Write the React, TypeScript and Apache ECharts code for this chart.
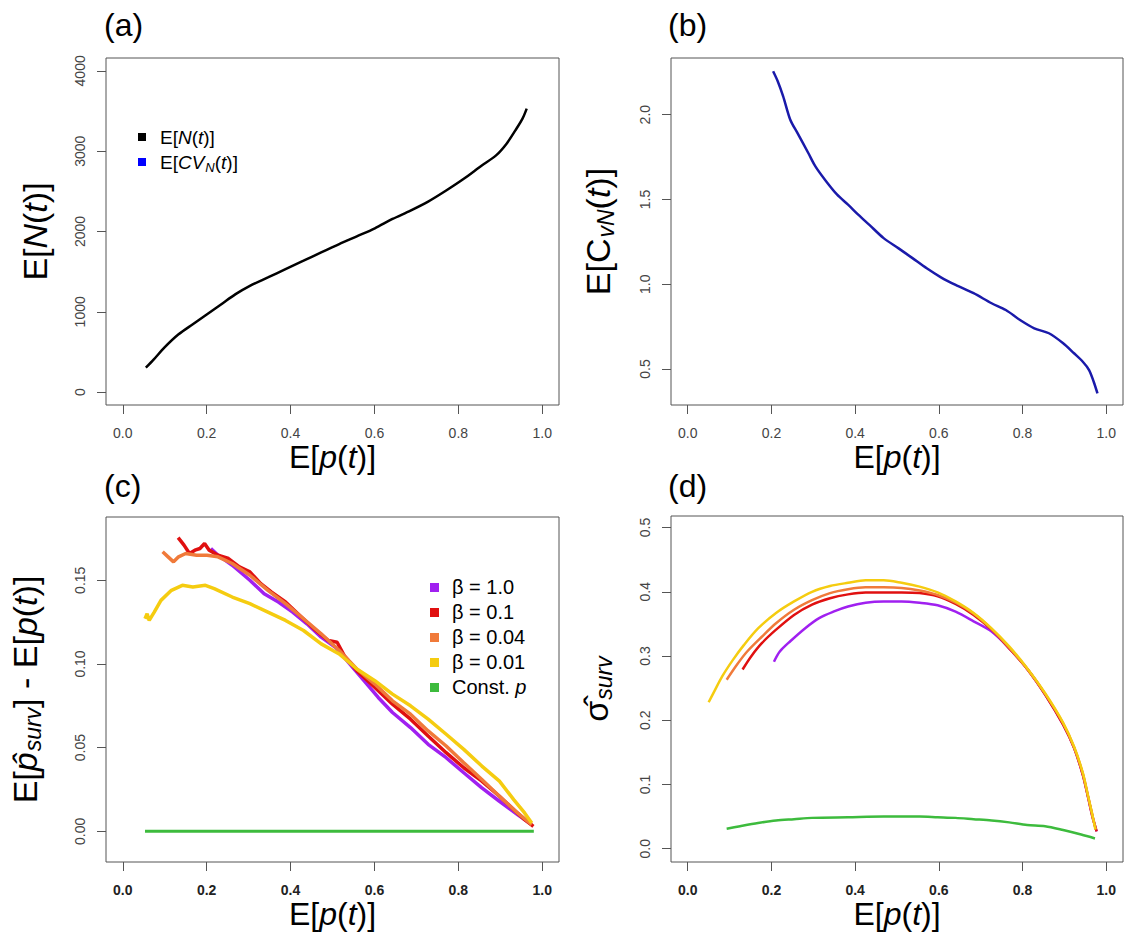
import React, { useEffect, useRef } from "react";
import * as echarts from "echarts";

const FONT = '"Liberation Sans", Arial, Helvetica, sans-serif';

// ---- tick values ----
const xTicks = [0, 0.2, 0.4, 0.6, 0.8, 1.0];
const aTicks = [0, 1000, 2000, 3000, 4000];
const bTicks = [0.5, 1.0, 1.5, 2.0];
const cTicks = [0, 0.05, 0.1, 0.15];
const dTicks = [0, 0.1, 0.2, 0.3, 0.4, 0.5];

// ---- panel (a): E[N(t)] vs E[p(t)] ----
const nX = [0.055, 0.074, 0.099, 0.133, 0.167, 0.201, 0.235, 0.269, 0.303, 0.346, 0.388, 0.431, 0.473, 0.516, 0.558, 0.601, 0.643, 0.686, 0.728, 0.771, 0.813, 0.856, 0.890, 0.915, 0.936, 0.953, 0.963];
const nY = [304, 408, 554, 720, 845, 970, 1095, 1220, 1324, 1428, 1532, 1636, 1740, 1844, 1940, 2040, 2156, 2260, 2372, 2510, 2656, 2822, 2947, 3093, 3259, 3405, 3530];

// ---- panel (b): E[CvN(t)] vs E[p(t)] ----
const cvX = [0.204, 0.215, 0.228, 0.245, 0.262, 0.288, 0.305, 0.331, 0.357, 0.383, 0.408, 0.434, 0.468, 0.503, 0.537, 0.571, 0.605, 0.640, 0.683, 0.726, 0.760, 0.794, 0.828, 0.863, 0.897, 0.923, 0.944, 0.959, 0.970, 0.979];
const cvY = [2.256, 2.197, 2.108, 1.970, 1.892, 1.774, 1.695, 1.606, 1.528, 1.469, 1.409, 1.350, 1.272, 1.213, 1.154, 1.094, 1.041, 0.996, 0.947, 0.888, 0.848, 0.789, 0.740, 0.711, 0.652, 0.593, 0.543, 0.494, 0.425, 0.356];

// ---- panel (c): bias ----
const c1X = [0.210, 0.227, 0.261, 0.303, 0.337, 0.371, 0.405, 0.439, 0.473, 0.507, 0.541, 0.575, 0.609, 0.643, 0.686, 0.728, 0.771, 0.813, 0.856, 0.898, 0.941, 0.975];
const c1Y = [0.169, 0.165, 0.159, 0.150, 0.142, 0.137, 0.131, 0.124, 0.116, 0.110, 0.100, 0.090, 0.080, 0.071, 0.062, 0.052, 0.044, 0.035, 0.026, 0.018, 0.010, 0.004];
const c2X = [0.132, 0.146, 0.159, 0.172, 0.184, 0.195, 0.206, 0.227, 0.252, 0.278, 0.303, 0.329, 0.354, 0.388, 0.422, 0.456, 0.490, 0.511, 0.528, 0.558, 0.601, 0.643, 0.686, 0.728, 0.771, 0.813, 0.856, 0.898, 0.932, 0.958, 0.979];
const c2Y = [0.1755, 0.171, 0.166, 0.168, 0.169, 0.172, 0.168, 0.165, 0.163, 0.158, 0.155, 0.148, 0.143, 0.137, 0.129, 0.121, 0.114, 0.113, 0.105, 0.096, 0.086, 0.076, 0.067, 0.057, 0.047, 0.038, 0.030, 0.021, 0.013, 0.007, 0.003];
const c3X = [0.095, 0.108, 0.121, 0.133, 0.150, 0.176, 0.201, 0.227, 0.261, 0.303, 0.346, 0.388, 0.431, 0.473, 0.516, 0.558, 0.601, 0.643, 0.686, 0.728, 0.771, 0.813, 0.856, 0.898, 0.941, 0.975];
const c3Y = [0.167, 0.164, 0.161, 0.164, 0.166, 0.165, 0.165, 0.164, 0.160, 0.153, 0.144, 0.136, 0.127, 0.118, 0.108, 0.097, 0.088, 0.078, 0.070, 0.060, 0.051, 0.041, 0.031, 0.021, 0.011, 0.004];
const c4X = [0.053, 0.058, 0.063, 0.075, 0.091, 0.116, 0.142, 0.167, 0.197, 0.218, 0.261, 0.303, 0.346, 0.388, 0.431, 0.473, 0.516, 0.558, 0.601, 0.643, 0.686, 0.728, 0.771, 0.813, 0.856, 0.898, 0.932, 0.958, 0.975];
const c4Y = [0.127, 0.130, 0.126, 0.131, 0.138, 0.144, 0.147, 0.146, 0.147, 0.145, 0.140, 0.136, 0.131, 0.126, 0.120, 0.112, 0.106, 0.097, 0.090, 0.082, 0.075, 0.067, 0.058, 0.049, 0.039, 0.030, 0.019, 0.011, 0.005];
const c5X = [0.053, 0.98];
const c5Y = [0, 0];

// ---- panel (d): sigma ----
const d1X = [0.206, 0.220, 0.245, 0.280, 0.314, 0.348, 0.383, 0.425, 0.468, 0.511, 0.554, 0.597, 0.640, 0.683, 0.726, 0.768, 0.811, 0.854, 0.897, 0.923, 0.944, 0.957, 0.967, 0.977];
const d1Y = [0.291, 0.307, 0.323, 0.343, 0.359, 0.369, 0.377, 0.383, 0.385, 0.385, 0.383, 0.379, 0.369, 0.354, 0.338, 0.312, 0.280, 0.240, 0.193, 0.157, 0.115, 0.079, 0.050, 0.027];
const d2X = [0.131, 0.151, 0.177, 0.211, 0.254, 0.297, 0.340, 0.383, 0.425, 0.468, 0.511, 0.554, 0.597, 0.640, 0.683, 0.726, 0.768, 0.811, 0.854, 0.897, 0.923, 0.944, 0.957, 0.967, 0.977];
const d2Y = [0.279, 0.299, 0.320, 0.341, 0.364, 0.380, 0.390, 0.396, 0.399, 0.399, 0.399, 0.398, 0.393, 0.381, 0.364, 0.341, 0.312, 0.280, 0.240, 0.193, 0.157, 0.115, 0.079, 0.050, 0.027];
const d3X = [0.093, 0.117, 0.142, 0.177, 0.211, 0.254, 0.297, 0.340, 0.383, 0.425, 0.468, 0.511, 0.554, 0.597, 0.640, 0.683, 0.726, 0.768, 0.811, 0.854, 0.897, 0.923, 0.944, 0.957, 0.967, 0.975];
const d3Y = [0.263, 0.286, 0.307, 0.330, 0.351, 0.372, 0.387, 0.398, 0.404, 0.407, 0.407, 0.406, 0.402, 0.395, 0.383, 0.366, 0.342, 0.313, 0.280, 0.241, 0.195, 0.158, 0.117, 0.080, 0.052, 0.030];
const d4X = [0.050, 0.065, 0.082, 0.108, 0.134, 0.168, 0.211, 0.254, 0.297, 0.340, 0.383, 0.425, 0.468, 0.511, 0.554, 0.597, 0.640, 0.683, 0.726, 0.768, 0.811, 0.854, 0.897, 0.923, 0.944, 0.957, 0.966, 0.974];
const d4Y = [0.228, 0.247, 0.268, 0.294, 0.317, 0.343, 0.367, 0.385, 0.400, 0.409, 0.414, 0.418, 0.418, 0.414, 0.408, 0.399, 0.385, 0.367, 0.343, 0.315, 0.281, 0.242, 0.196, 0.159, 0.118, 0.081, 0.055, 0.030];
const d5X = [0.093, 0.125, 0.168, 0.211, 0.254, 0.297, 0.383, 0.468, 0.554, 0.597, 0.640, 0.683, 0.726, 0.768, 0.811, 0.854, 0.897, 0.940, 0.973];
const d5Y = [0.031, 0.035, 0.040, 0.044, 0.046, 0.048, 0.049, 0.050, 0.050, 0.049, 0.048, 0.046, 0.044, 0.041, 0.037, 0.035, 0.029, 0.022, 0.016];

const betaNames = ["β = 1.0", "β = 0.1", "β = 0.04", "β = 0.01", "Const. p"];
const betaColors = ["#A020F0", "#E01010", "#F07A3A", "#F5CC10", "#3DBB3D"];
const nColor = "#000000";
const cvColor = "#1A1AAA";
const cvLegendColor = "#0000FF";

const zip = (xs: number[], ys: number[]) => xs.map((x, i) => [x, ys[i]]);

const T = 32; // title font
const richBase = (size: number) => ({
  n: { fontSize: size, fontFamily: FONT, color: "#000" },
  i: { fontSize: size, fontFamily: FONT, color: "#000", fontStyle: "italic" },
  s: { fontSize: Math.round(size * 0.68), fontFamily: FONT, color: "#000", fontStyle: "italic", padding: [Math.round(size * 0.45), 0, 0, 1] },
});

function xAxis(gridIndex: number, bold: boolean) {
  return {
    type: "value",
    gridIndex,
    min: -0.04,
    max: 1.04,
    axisLine: { show: false, onZero: false },
    splitLine: { show: false },
    axisTick: { show: true, length: 9, customValues: xTicks, lineStyle: { color: "#555", width: 1 } },
    axisLabel: {
      customValues: xTicks,
      formatter: (v: number) => v.toFixed(1),
      margin: 21,
      fontSize: 14,
      fontFamily: FONT,
      color: bold ? "#222" : "#444",
      fontWeight: bold ? "bold" : "normal",
    },
    name: "{n|E[}{i|p}{n|(}{i|t}{n|)]}",
    nameLocation: "middle",
    nameGap: 33,
    nameTextStyle: { fontSize: T, fontFamily: FONT, color: "#000", rich: richBase(T) },
  };
}

function yAxis(gridIndex: number, min: number, max: number, ticks: number[], dec: number, name: string, gap: number) {
  return {
    type: "value",
    gridIndex,
    min,
    max,
    axisLine: { show: false, onZero: false },
    splitLine: { show: false },
    axisTick: { show: true, length: 9, customValues: ticks, lineStyle: { color: "#555", width: 1 } },
    axisLabel: {
      customValues: ticks,
      formatter: (v: number) => v.toFixed(dec),
      rotate: 90,
      margin: 19,
      fontSize: 14,
      fontFamily: FONT,
      color: "#444",
    },
    name,
    nameLocation: "middle",
    nameRotate: 90,
    nameGap: gap,
    nameTextStyle: { fontSize: 34, fontFamily: FONT, color: "#000", rich: richBase(34) },
  };
}

function line(name: string, xi: number, xs: number[], ys: number[], color: string, width: number, smooth: number) {
  return {
    type: "line",
    name,
    xAxisIndex: xi,
    yAxisIndex: xi,
    data: zip(xs, ys),
    showSymbol: false,
    symbol: "none",
    smooth,
    lineStyle: { color, width },
    itemStyle: { color },
    emphasis: { disabled: true },
  };
}

function App() {
  const ref = useRef<HTMLDivElement>(null);
  useEffect(() => {
    if (!ref.current) return;
    const chart = echarts.init(ref.current, null, { renderer: "svg" });

    const gridStyle = { show: true, borderColor: "#555", borderWidth: 1, backgroundColor: "transparent" };
    const cSeries = [
      line(betaNames[0], 2, c1X, c1Y, betaColors[0], 3.5, 0),
      line(betaNames[1], 2, c2X, c2Y, betaColors[1], 3.5, 0),
      line(betaNames[2], 2, c3X, c3Y, betaColors[2], 3.5, 0),
      line(betaNames[3], 2, c4X, c4Y, betaColors[3], 3.5, 0),
      line(betaNames[4], 2, c5X, c5Y, betaColors[4], 3, 0),
    ];
    const dSeries = [
      line(betaNames[0], 3, d1X, d1Y, betaColors[0], 2.5, 0.3),
      line(betaNames[1], 3, d2X, d2Y, betaColors[1], 2.5, 0.3),
      line(betaNames[2], 3, d3X, d3Y, betaColors[2], 2.5, 0.3),
      line(betaNames[3], 3, d4X, d4Y, betaColors[3], 2.5, 0.3),
      line(betaNames[4], 3, d5X, d5Y, betaColors[4], 2.5, 0.3),
    ];

    const legendRich = {
      n: { fontSize: 19, fontFamily: FONT, color: "#000" },
      i: { fontSize: 19, fontFamily: FONT, color: "#000", fontStyle: "italic" },
      s: { fontSize: 13, fontFamily: FONT, color: "#000", fontStyle: "italic", padding: [10, 0, 0, 1] },
    };
    const legendA = [
      { label: "{n|E[}{i|N}{n|(}{i|t}{n|)]}", color: nColor, y: 137 },
      { label: "{n|E[}{i|CV}{s|N}{n|(}{i|t}{n|)]}", color: cvLegendColor, y: 162 },
    ];
    const legendCLabels = ["{n|β = 1.0}", "{n|β = 0.1}", "{n|β = 0.04}", "{n|β = 0.01}", "{n|Const. }{i|p}"];
    const legendCY = [587, 612, 637, 662, 687];

    const graphics: any[] = [];
    const panelLabels = [
      { t: "(a)", x: 104, y: 25 },
      { t: "(b)", x: 668, y: 25 },
      { t: "(c)", x: 104, y: 486 },
      { t: "(d)", x: 668, y: 486 },
    ];
    panelLabels.forEach((p) =>
      graphics.push({
        type: "text",
        x: p.x,
        y: p.y,
        style: { text: p.t, fontSize: 32, fontFamily: FONT, fill: "#000", verticalAlign: "middle", align: "left" },
      })
    );
    legendA.forEach((l) => {
      graphics.push({ type: "rect", shape: { x: 138, y: l.y - 4, width: 8, height: 8 }, style: { fill: l.color } });
      graphics.push({
        type: "text",
        x: 160,
        y: l.y,
        style: { text: l.label, rich: legendRich, verticalAlign: "middle", align: "left", fontSize: 19, fontFamily: FONT },
      });
    });
    legendCLabels.forEach((lab, i) => {
      graphics.push({ type: "rect", shape: { x: 430, y: legendCY[i] - 4, width: 9, height: 9 }, style: { fill: betaColors[i] } });
      graphics.push({
        type: "text",
        x: 452,
        y: legendCY[i],
        style: { text: lab, rich: { n: { fontSize: 20, fontFamily: FONT, color: "#000" }, i: { fontSize: 20, fontFamily: FONT, color: "#000", fontStyle: "italic" } }, verticalAlign: "middle", align: "left", fontSize: 20, fontFamily: FONT },
      });
    });

    chart.setOption({
      animation: false,
      backgroundColor: "#ffffff",
      grid: [
        { left: 106, top: 58, width: 453, height: 347, ...gridStyle },
        { left: 671, top: 58, width: 452, height: 347, ...gridStyle },
        { left: 106, top: 517, width: 453, height: 345, ...gridStyle },
        { left: 671, top: 516, width: 452, height: 346, ...gridStyle },
      ],
      xAxis: [xAxis(0, false), xAxis(1, false), xAxis(2, true), xAxis(3, true)],
      yAxis: [
        yAxis(0, -160, 4160, aTicks, 0, "{n|E[}{i|N}{n|(}{i|t}{n|)]}", 54),
        yAxis(1, 0.288, 2.334, bTicks, 1, "{n|E[C}{s|vN}{n|(}{i|t}{n|)]}", 54),
        yAxis(2, -0.0183, 0.1878, cTicks, 2, "{n|E[}{i|p\u0302}{s|surv}{n|] - E[}{i|p}{n|(}{i|t}{n|)]}", 62),
        yAxis(3, -0.0207, 0.518, dTicks, 1, "{n|\u03C3\u0302}{s|surv}", 56),
      ],
      series: [
        line("E[N(t)]", 0, nX, nY, nColor, 2.5, 0.3),
        line("E[CVN(t)]", 1, cvX, cvY, cvColor, 2.5, 0.3),
        ...cSeries,
        ...dSeries,
      ],
      graphic: graphics,
    });
    return () => chart.dispose();
  }, []);
  return (
    <div
      ref={ref}
      style={{ position: "fixed", left: 0, top: 0, width: 1125, height: 935, background: "#fff" }}
    />
  );
}

export default App;
